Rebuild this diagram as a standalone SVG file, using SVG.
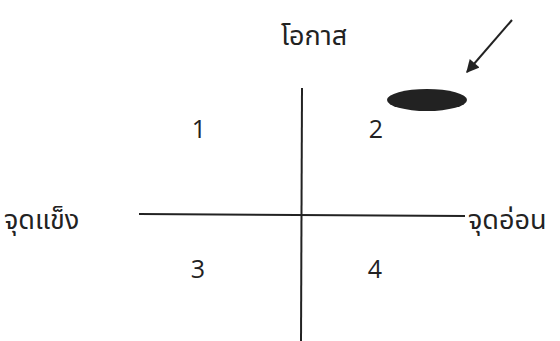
<svg xmlns="http://www.w3.org/2000/svg" width="560" height="341" viewBox="0 0 560 341">
<style>
.t{font-family:"Noto Sans Thai","Noto Sans","DejaVu Sans",sans-serif;font-size:27px;fill:#222}
.n{font-family:"Open Sans","Liberation Sans",sans-serif;font-size:25px;fill:#222;text-anchor:middle}
.ax{stroke:#222;stroke-width:2;fill:none}
</style>
<defs>
<marker id="ah" viewBox="0 0 10 10" refX="9" refY="5" markerWidth="15" markerHeight="13" markerUnits="userSpaceOnUse" orient="auto">
<path d="M0,0 L10,5 L0,10 z" fill="#222"/>
</marker>
</defs>
<rect width="560" height="341" fill="#fff"/>
<g id="connectors">
<line class="ax" x1="302" y1="88" x2="301" y2="341"/>
<line class="ax" x1="139" y1="214" x2="465" y2="216"/>
<line class="ax" x1="512" y1="20" x2="467" y2="72" stroke-width="1.5" marker-end="url(#ah)"/>
</g>
<g id="label-top"><text class="t" x="281" y="45">โอกาส</text></g>
<g id="label-left"><text class="t" x="4" y="229">จุดแข็ง</text></g>
<g id="label-right"><text class="t" x="468" y="229">จุดอ่อน</text></g>
<g id="q1"><text class="n" x="199" y="138">1</text></g>
<g id="q2"><text class="n" x="376" y="138">2</text></g>
<g id="q3"><text class="n" x="198" y="278">3</text></g>
<g id="q4"><text class="n" x="375" y="278">4</text></g>
<g id="marker-ellipse"><ellipse cx="427" cy="100" rx="40" ry="11" fill="#222"/></g>
</svg>
